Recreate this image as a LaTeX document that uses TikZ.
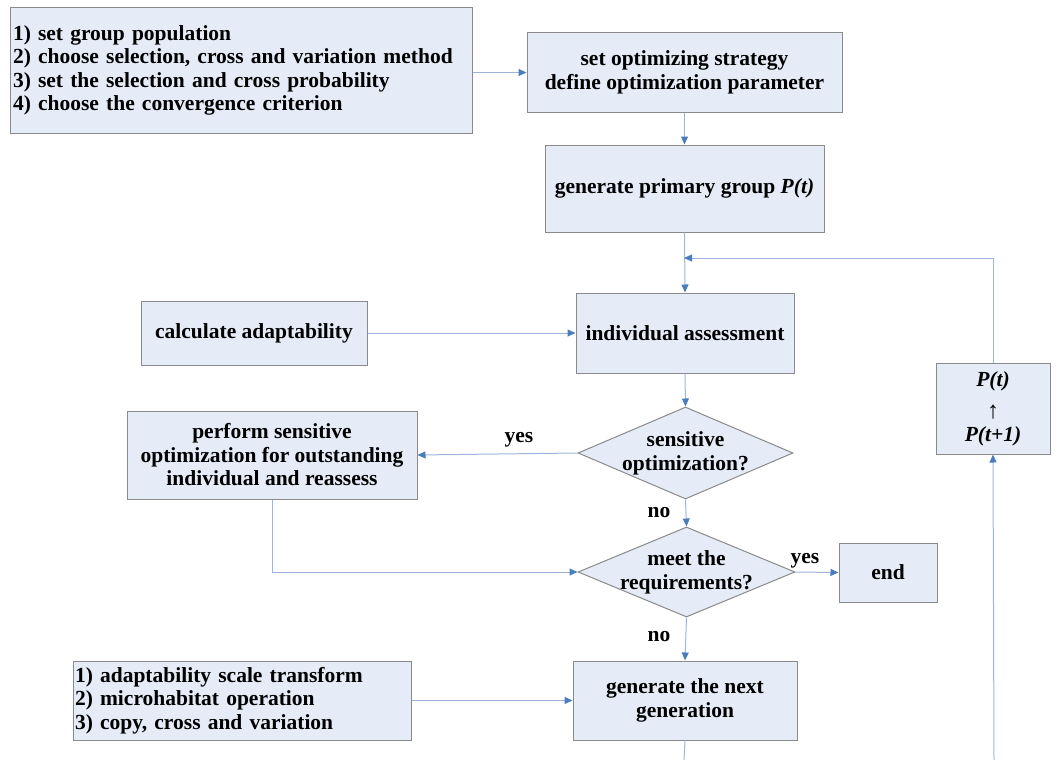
\documentclass[tikz,border=0pt]{standalone}
\usepackage{fontspec}
\setmainfont{Liberation Serif}
\usetikzlibrary{arrows.meta,shapes.geometric}
\definecolor{boxfill}{HTML}{E6ECF7}
\definecolor{boxline}{HTML}{8A8A8A}
\definecolor{conn}{HTML}{9DB5DC}
\definecolor{tipc}{HTML}{4A7EBB}
\tikzset{
  box/.style={draw=boxline, fill=boxfill, line width=1pt, rectangle, inner sep=2pt, align=center,
    font=\bfseries\fontsize{21.5}{23.5}\selectfont},
  dia/.style={draw=boxline, fill=boxfill, line width=1pt, diamond, inner sep=0pt},
  lbl/.style={font=\bfseries\fontsize{21.5}{24}\selectfont, align=center},
  conn/.style={draw=conn, line width=1pt, -{Triangle[length=8pt,width=7pt,color=tipc]}},
  connplain/.style={draw=conn, line width=1pt},
}
\begin{document}
\begin{tikzpicture}[x=1pt,y=-1pt]
\useasboundingbox (0,0) rectangle (1061,760);
% nodes
\node[box, minimum width=462, minimum height=125, align=left, text width=456] (list1) at (241,70.5)
  {1) set group population\\2) choose selection, cross and variation method\\3) set the selection and cross probability\\4) choose the convergence criterion};
\node[box, minimum width=315, minimum height=79] (strat) at (684.5,72.5)
  {set optimizing strategy\\define optimization parameter};
\node[box, minimum width=279, minimum height=87] (prim) at (684.5,188.5)
  {generate primary group \textit{P(t)}};
\node[box, minimum width=218, minimum height=80] (assess) at (685,333)
  {individual assessment};
\node[box, minimum width=226, minimum height=64] (calc) at (254,333)
  {calculate adaptability};
\node[dia, minimum width=215, minimum height=92, label={[lbl]center:sensitive\\optimization?}] (d1) at (685.5,453) {};
\node[box, minimum width=290, minimum height=88] (perf) at (272,455)
  {perform sensitive\\optimization for outstanding\\individual and reassess};
\node[box, minimum width=114, minimum height=91] (pbox) at (993,408.5)
  {\textit{P(t)}\\[6pt]\raisebox{-3pt}{\fontsize{24}{24}\selectfont ↑}\\[2pt]\textit{P(t+1)}};
\node[dia, minimum width=217, minimum height=90, label={[lbl]center:meet the\\requirements?}] (d2) at (686.5,572) {};
\node[box, minimum width=98, minimum height=59] (endn) at (888,572.5) {end};
\node[box, minimum width=224, minimum height=79] (next) at (685,700.5)
  {generate the next\\generation};
\node[box, minimum width=338, minimum height=79, align=left, text width=334] (list2) at (242,700.5)
  {1) adaptability scale transform\\2) microhabitat operation\\3) copy, cross and variation};
% coordinates
\coordinate (join) at (684,258);
\coordinate (bot1) at (684,760);
\coordinate (bot2) at (994,760);
% labels
\node[lbl] (yes1) at (519,440) {yes};
\node[lbl] (no1) at (659,513) {no};
\node[lbl] (yes2) at (805,561) {yes};
\node[lbl] (no2) at (659,637) {no};
% connectors
\draw[conn] (list1.east |- strat.west) -- (strat.west);
\draw[conn] (strat.south) -- (prim.north);
\draw[conn] (prim.south) -- (assess.north);
\draw[conn] (pbox.north) |- (join);
\draw[conn] (calc.east) -- (assess.west);
\draw[conn] (assess.south) -- (d1.north);
\draw[conn] (d1.west) -- (perf.east);
\draw[conn] (d1.south) -- (d2.north);
\draw[conn] (perf.south) |- (d2.west);
\draw[conn] (d2.east) -- (endn.west);
\draw[conn] (d2.south) -- (next.north);
\draw[conn] (list2.east) -- (next.west);
\draw[connplain] (next.south) -- (bot1);
\draw[conn] (bot2) -- (pbox.south);
\end{tikzpicture}
\end{document}
